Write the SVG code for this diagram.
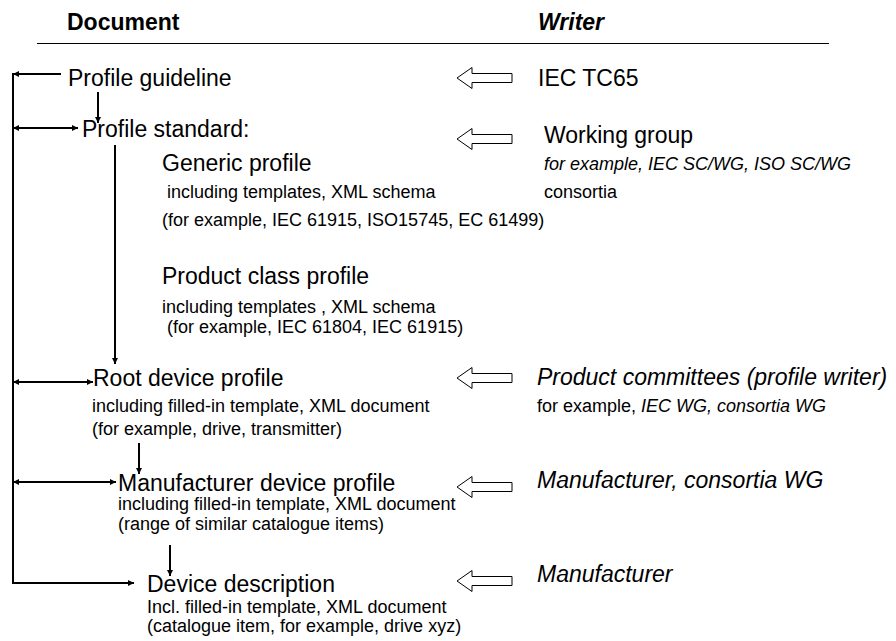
<svg xmlns="http://www.w3.org/2000/svg" width="896" height="641" viewBox="0 0 896 641">
<style>
text{font-family:"Liberation Sans",Arial,sans-serif;fill:#000}
.h{font-size:23px;font-weight:bold}
.b{font-size:23px}
.s{font-size:18px}
.i{font-style:italic}
.ln{stroke:#000;stroke-width:2;fill:none}
.hol{fill:#fff;stroke:#000;stroke-width:1}
</style>
<defs>
<marker id="ah" viewBox="0 0 10 10" refX="10" refY="5" markerWidth="7" markerHeight="6" markerUnits="userSpaceOnUse" orient="auto-start-reverse">
<path d="M0,0 L10,5 L0,10 z" fill="#000"/>
</marker>
<polygon id="hollow" class="hol" points="0,0 15,-10.5 15,-4.5 55,-4.5 55,4.5 15,4.5 15,10.5"/>
</defs>
<rect width="896" height="641" fill="#fff"/>
<g id="header">
<text class="h" x="67" y="30">Document</text>
<text class="h i" x="538" y="30">Writer</text>
<line x1="37" y1="43.5" x2="829" y2="43.5" stroke="#000" stroke-width="1.2"/>
</g>
<g id="connectors">
<line class="ln" x1="13" y1="73" x2="13" y2="584"/>
<line class="ln" x1="61" y1="74" x2="13" y2="74" marker-end="url(#ah)"/>
<line class="ln" x1="98" y1="92" x2="98" y2="123" marker-end="url(#ah)"/>
<line class="ln" x1="13" y1="128" x2="78" y2="128" marker-start="url(#ah)" marker-end="url(#ah)"/>
<line class="ln" x1="115" y1="145" x2="115" y2="364" marker-end="url(#ah)"/>
<line class="ln" x1="13" y1="382" x2="93" y2="382" marker-start="url(#ah)" marker-end="url(#ah)"/>
<line class="ln" x1="139" y1="443" x2="139" y2="474" marker-end="url(#ah)"/>
<line class="ln" x1="13" y1="482" x2="116" y2="482" marker-start="url(#ah)" marker-end="url(#ah)"/>
<line class="ln" x1="170" y1="545" x2="170" y2="576" marker-end="url(#ah)"/>
<line class="ln" x1="12" y1="583" x2="134" y2="583" marker-end="url(#ah)"/>
<use href="#hollow" x="457" y="78"/>
<use href="#hollow" x="457" y="139"/>
<use href="#hollow" x="457" y="378"/>
<use href="#hollow" x="457" y="487"/>
<use href="#hollow" x="457" y="581"/>
</g>
<g id="profile-guideline">
<text class="b" x="68" y="86">Profile guideline</text>
</g>
<g id="profile-standard">
<text class="b" x="82" y="137">Profile standard:</text>
</g>
<g id="generic-profile">
<text class="b" x="162" y="171">Generic profile</text>
<text class="s" x="162" y="198" xml:space="preserve"> including templates, XML schema</text>
<text class="s" x="162" y="226">(for example, IEC 61915, ISO15745, EC 61499)</text>
</g>
<g id="product-class-profile">
<text class="b" x="162" y="284">Product class profile</text>
<text class="s" x="162" y="313">including templates , XML schema</text>
<text class="s" x="162" y="333" xml:space="preserve"> (for example, IEC 61804, IEC 61915)</text>
</g>
<g id="root-device-profile">
<text class="b" x="93" y="386">Root device profile</text>
<text class="s" x="92" y="412">including filled-in template, XML document</text>
<text class="s" x="92" y="435">(for example, drive, transmitter)</text>
</g>
<g id="manufacturer-device-profile">
<text class="b" x="118" y="491">Manufacturer device profile</text>
<text class="s" x="118" y="510">including filled-in template, XML document</text>
<text class="s" x="118" y="530">(range of similar catalogue items)</text>
</g>
<g id="device-description">
<text class="b" x="147" y="592">Device description</text>
<text class="s" x="147" y="613">Incl. filled-in template, XML document</text>
<text class="s" x="147" y="632">(catalogue item, for example, drive xyz)</text>
</g>
<g id="writer-iec">
<text class="b" x="538" y="86">IEC TC65</text>
</g>
<g id="writer-wg">
<text class="b" x="544" y="143">Working group</text>
<text class="s i" x="544" y="170">for example, IEC SC/WG, ISO SC/WG</text>
<text class="s" x="544" y="198">consortia</text>
</g>
<g id="writer-pc">
<text class="b i" x="537" y="385">Product committees (profile writer)</text>
<text class="s" x="537" y="412">for example, <tspan class="i">IEC WG, consortia WG</tspan></text>
</g>
<g id="writer-mfr-wg">
<text class="b i" x="537" y="488">Manufacturer, consortia WG</text>
</g>
<g id="writer-mfr">
<text class="b i" x="537" y="582">Manufacturer</text>
</g>
</svg>
